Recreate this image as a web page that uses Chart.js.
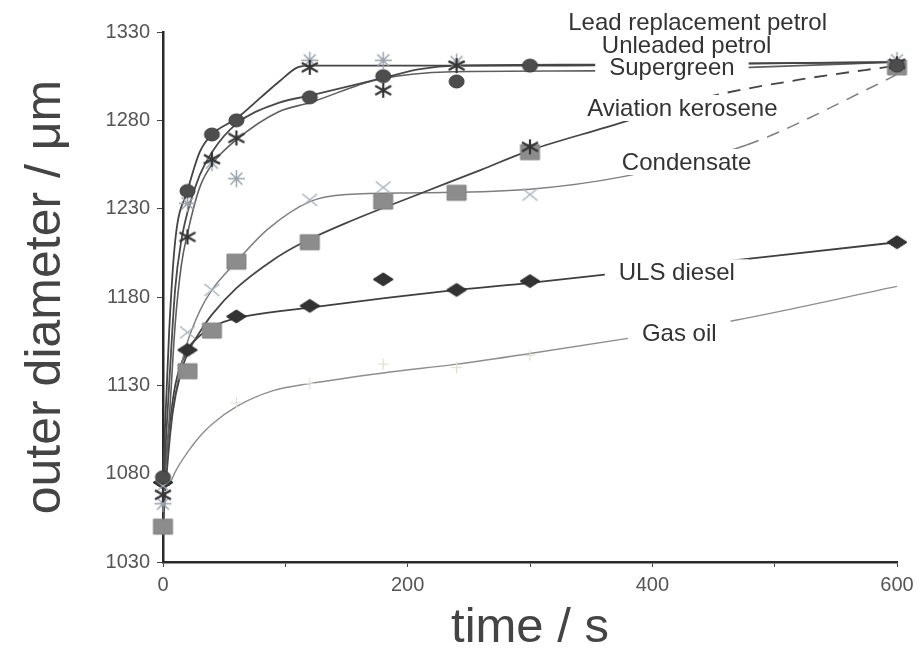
<!DOCTYPE html>
<html><head><meta charset="utf-8">
<script src="https://cdn.jsdelivr.net/npm/chart.js@4.4.1/dist/chart.umd.min.js"></script>
<style>html,body{margin:0;padding:0;background:#fff;}canvas{display:block;}</style>
</head><body>
<canvas id="c" width="920" height="653"></canvas>
<script>
// ---------- data (time s, outer diameter µm) ----------
const seriesNames = ['Lead replacement petrol','Unleaded petrol','Supergreen','Aviation kerosene','Condensate','ULS diesel','Gas oil'];
const xTickValues = [0, 200, 400, 600];
const yTickValues = [1030, 1080, 1130, 1180, 1230, 1280, 1330];

// measured points
const leadPts       = [[0,1078],[20,1240],[40,1272],[60,1280],[120,1293],[180,1305],[240,1302],[300,1311],[600,1311]];
const unleadedPts   = [[0,1068],[20,1214],[40,1258],[60,1270],[120,1310],[180,1297],[240,1311],[300,1265],[600,1312]];
const supergreenPts = [[0,1063],[20,1233],[40,1256],[60,1247],[120,1314],[180,1314],[240,1313],[600,1314]];
const aviationPts   = [[0,1050],[20,1138],[40,1161],[60,1200],[120,1211],[180,1234],[240,1239],[300,1262],[600,1310]];
const condensatePts = [[0,1073],[20,1160],[40,1184],[120,1235],[180,1242],[300,1238],[600,1309]];
const dieselPts     = [[0,1075],[20,1150],[60,1169],[120,1175],[180,1190],[240,1184],[300,1189],[600,1211]];
const gasoilPts     = [[0,1070],[60,1120],[120,1131],[180,1142],[240,1140],[300,1147]];

// trend curves as drawn in the figure
const leadFit       = [[0,1078],[5,1160],[10,1212],[20,1240],[30,1262],[40,1272],[60,1281],[80,1293],[95,1302],[110,1310],[120,1311],[300,1311],[450,1312],[600,1313]];
const unleadedFit   = [[0,1070],[5,1130],[10,1185],[15,1212],[20,1228],[30,1249],[40,1262],[60,1278],[95,1290],[120,1294],[180,1304],[210,1309],[240,1311],[350,1311.5],[600,1313]];
const supergreenFit = [[0,1063],[5,1110],[10,1165],[15,1198],[20,1216],[30,1242],[40,1255],[60,1269],[95,1285],[120,1290],[175,1303],[237,1307.5],[350,1308],[480,1310],[600,1313]];
const aviationFit   = [[0,1050],[3,1080],[8,1115],[15,1138],[20,1148],[30,1160],[40,1170],[60,1185],[90,1201],[112,1210],[150,1222],[212,1239],[260,1252],[300,1263],[362,1276],[444,1293],[520,1303],[600,1311]];
const condensateFit = [[0,1073],[5,1100],[10,1125],[18,1150],[30,1172],[40,1184],[60,1200],[85,1218],[120,1234],[150,1238],[212,1239],[300,1241],[375,1248],[477,1266],[580,1299],[600,1306]];
const dieselFit     = [[0,1072],[5,1105],[10,1130],[20,1150],[30,1158],[40,1163],[60,1168],[120,1174],[240,1184],[300,1188],[600,1211]];
const gasoilFit     = [[5,1073],[10,1081],[20,1092],[30,1101],[40,1108],[60,1118],[90,1127],[120,1131],[180,1137],[240,1142],[300,1148],[384,1157],[469,1167],[600,1186]];

// where each curve label sits (time, diameter)
const labelAt = [[437,1335.5],[428,1322.6],[416,1310.2],[424.5,1287],[428,1256.4],[420,1194],[422,1159.6]];

// ---------- marker images ----------
function marker(kind, w, h, fill, stroke, lw) {
  const c = document.createElement('canvas');
  c.width = w + 4; c.height = h + 4;
  const g = c.getContext('2d');
  const cx = c.width / 2, cy = c.height / 2, rx = w / 2, ry = h / 2;
  g.lineWidth = lw; g.strokeStyle = stroke; g.fillStyle = fill; g.lineCap = 'butt';
  g.beginPath();
  if (kind === 'circle') { g.ellipse(cx, cy, rx, ry, 0, 0, Math.PI * 2); g.fill(); g.stroke(); }
  else if (kind === 'square') { g.rect(cx - rx, cy - ry, w, h); g.fill(); if (lw) g.stroke(); }
  else if (kind === 'diamond') { g.moveTo(cx, cy - ry); g.lineTo(cx + rx, cy); g.lineTo(cx, cy + ry); g.lineTo(cx - rx, cy); g.closePath(); g.fill(); g.stroke(); }
  else if (kind === 'star6') { g.moveTo(cx, cy - ry); g.lineTo(cx, cy + ry); g.moveTo(cx - rx, cy - ry * 0.6); g.lineTo(cx + rx, cy + ry * 0.6); g.moveTo(cx - rx, cy + ry * 0.6); g.lineTo(cx + rx, cy - ry * 0.6); g.stroke(); }
  else if (kind === 'star8') { g.moveTo(cx, cy - ry); g.lineTo(cx, cy + ry); g.moveTo(cx - rx, cy); g.lineTo(cx + rx, cy); g.moveTo(cx - rx * 0.7, cy - ry * 0.7); g.lineTo(cx + rx * 0.7, cy + ry * 0.7); g.moveTo(cx - rx * 0.7, cy + ry * 0.7); g.lineTo(cx + rx * 0.7, cy - ry * 0.7); g.stroke(); }
  else if (kind === 'x') { g.moveTo(cx - rx, cy - ry); g.lineTo(cx + rx, cy + ry); g.moveTo(cx - rx, cy + ry); g.lineTo(cx + rx, cy - ry); g.stroke(); }
  else if (kind === 'plus') { g.moveTo(cx, cy - ry); g.lineTo(cx, cy + ry); g.moveTo(cx - rx, cy); g.lineTo(cx + rx, cy); g.stroke(); }
  return c;
}

const styles = [
  { pts: leadPts,       fit: leadFit,       mk: marker('circle', 15, 13, '#4d4d4d', '#3a3a3a', 1), line: '#444',    lw: 1.8, dash: null },
  { pts: unleadedPts,   fit: unleadedFit,   mk: marker('star6', 16, 15, 'none', '#353535', 2.2),  line: '#4a4a4a', lw: 1.8, dash: null },
  { pts: supergreenPts, fit: supergreenFit, mk: marker('star8', 17, 17, 'none', '#9aa2ac', 1.5),  line: '#5e5e5e', lw: 1.6, dash: null },
  { pts: aviationPts,   fit: aviationFit,   mk: marker('square', 19, 15, '#8c8c8c', '#808080', 1), line: '#454545', lw: 1.8, dash: 400 },
  { pts: condensatePts, fit: condensateFit, mk: marker('x', 15, 12, 'none', '#aab3bd', 1.6),      line: '#7e7e7e', lw: 1.5, dash: 460 },
  { pts: dieselPts,     fit: dieselFit,     mk: marker('diamond', 20, 13, '#333', '#2a2a2a', 1),  line: '#3e3e3e', lw: 1.8, dash: null },
  { pts: gasoilPts,     fit: gasoilFit,     mk: marker('plus', 11, 11, 'none', '#dcdcd0', 1.2),   line: '#8e8e8e', lw: 1.4, dash: null }
];

const toXY = arr => arr.map(p => ({ x: p[0], y: p[1] }));
const datasets = [];
styles.forEach((s, i) => {
  datasets.push({
    label: seriesNames[i] + ' (data)', data: toXY(s.pts), showLine: false,
    pointStyle: s.mk, pointRadius: 6, pointHoverRadius: 6, clip: false
  });
});
styles.forEach((s, i) => {
  const dashFrom = s.dash;
  datasets.push({
    label: seriesNames[i], data: toXY(s.fit), showLine: true, pointRadius: 0,
    borderColor: s.line, borderWidth: s.lw, cubicInterpolationMode: 'monotone', clip: false,
    segment: { borderDash: ctx => (dashFrom !== null && ctx.p0.parsed.x >= dashFrom) ? [13, 9] : undefined }
  });
});

const FONT = "'Liberation Sans', Arial, sans-serif";

const curveLabels = {
  id: 'curveLabels',
  afterDatasetsDraw(chart) {
    const { ctx, scales: { x, y } } = chart;
    ctx.save();
    ctx.font = '24px ' + FONT;
    const boxes = seriesNames.map((t, i) => {
      const px = x.getPixelForValue(labelAt[i][0]);
      const py = y.getPixelForValue(labelAt[i][1]);
      const w = ctx.measureText(t).width;
      return { t, px, py, w };
    });
    ctx.fillStyle = '#fff';
    boxes.forEach(b => ctx.fillRect(b.px - b.w / 2 - 14, b.py - 13, b.w + 28, 26));
    ctx.fillStyle = '#333';
    ctx.textAlign = 'center'; ctx.textBaseline = 'middle';
    boxes.forEach(b => ctx.fillText(b.t, b.px, b.py + 1));
    ctx.restore();
  }
};

new Chart(document.getElementById('c'), {
  type: 'scatter',
  data: { datasets },
  plugins: [curveLabels],
  options: {
    responsive: false, animation: false, devicePixelRatio: 1,
    layout: { padding: { left: 0, right: 23, top: 32, bottom: 0 } },
    plugins: { legend: { display: false }, tooltip: { enabled: false } },
    scales: {
      x: {
        type: 'linear', min: 0, max: 600,
        afterFit: s => { s.height = 91; },
        afterBuildTicks: s => { s.ticks = [0,100,200,300,400,500,600].map(v => ({ value: v })); },
        ticks: { autoSkip: false, maxRotation: 0, padding: 6, color: '#555', font: { family: FONT, size: 20 },
                 callback: v => xTickValues.includes(v) ? String(v) : '' },
        grid: { drawOnChartArea: false, drawTicks: true, tickLength: 5, tickColor: '#444', tickWidth: 1 },
        border: { color: '#2a2a2a', width: 2.5 },
        title: { display: true, text: 'time / s', color: '#444', font: { family: FONT, size: 49 }, padding: { top: 0, bottom: -5 } }
      },
      y: {
        type: 'linear', min: 1030, max: 1330,
        afterFit: s => { s.width = 163; },
        afterBuildTicks: s => { s.ticks = yTickValues.map(v => ({ value: v })); },
        ticks: { autoSkip: false, padding: 7, color: '#555', font: { family: FONT, size: 20 },
                 callback: v => String(v) },
        grid: { drawOnChartArea: false, drawTicks: true, tickLength: 6, tickColor: '#444', tickWidth: 1 },
        border: { color: '#2a2a2a', width: 2.5 },
        title: { display: true, text: 'outer diameter / μm', color: '#444', font: { family: FONT, size: 50 }, padding: { top: 16, bottom: 0 } }
      }
    }
  }
});
</script>
</body></html>
